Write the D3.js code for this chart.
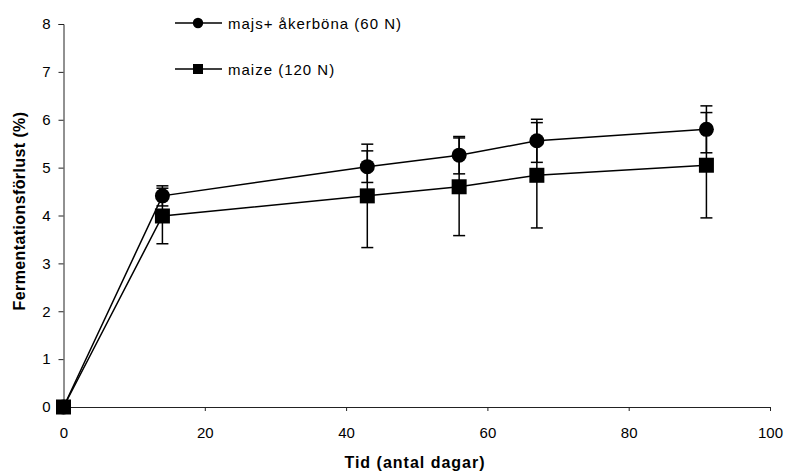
<!DOCTYPE html>
<html>
<head>
<meta charset="utf-8">
<script src="https://cdn.jsdelivr.net/npm/d3@7"></script>
<style>
  body { margin: 0; background: #fff; }
  text { font-family: "Liberation Sans", Arial, sans-serif; fill: #000; }
</style>
</head>
<body>
<div id="chart"></div>
<script>
// Fermentationsförlust över tid, två grödor
const days = [0, 14, 43, 56, 67, 91];
const mixMean = [0, 4.41, 5.02, 5.26, 5.56, 5.80];   // majs+ åkerböna (60 N)
const mixErr  = [0, 0.21, 0.33, 0.39, 0.45, 0.49];
const maizeMean = [0, 3.99, 4.41, 4.60, 4.84, 5.05]; // maize (120 N)
const maizeErr  = [0, 0.58, 1.08, 1.02, 1.10, 1.10];
const xTicks = [0, 20, 40, 60, 80, 100];
const yTicks = [0, 1, 2, 3, 4, 5, 6, 7, 8];
const seriesNames = ["majs+ åkerböna (60 N)", "maize (120 N)"];

const W = 787, H = 474;
const svg = d3.select("#chart").append("svg").attr("width", W).attr("height", H);

const x = d3.scaleLinear().domain([0, 100]).range([63.5, 770]);
const y = d3.scaleLinear().domain([0, 8]).range([407, 24]);

/* axes */
const yAxis = svg.append("g").attr("transform", `translate(${x(0)},0)`)
  .call(d3.axisLeft(y).tickValues(yTicks).tickSize(5).tickPadding(8).tickFormat(d3.format("d")));
const xAxis = svg.append("g").attr("transform", `translate(0,${y(0)})`)
  .call(d3.axisBottom(x).tickValues(xTicks).tickSize(4).tickPadding(16).tickFormat(d3.format("d")));
[xAxis, yAxis].forEach(g => {
  g.select(".domain").attr("stroke", "#222").attr("stroke-width", 1);
  g.selectAll(".tick line").attr("stroke", "#222");
  g.selectAll("text").attr("font-size", 15).attr("font-family", "Liberation Sans, Arial, sans-serif");
});

svg.append("text").attr("x", 415).attr("y", 468).attr("text-anchor", "middle")
  .attr("font-size", 16).attr("font-weight", "bold").attr("letter-spacing", 1)
  .text("Tid (antal dagar)");
svg.append("text").attr("transform", "translate(25,211) rotate(-90)").attr("text-anchor", "middle")
  .attr("font-size", 16).attr("font-weight", "bold").attr("letter-spacing", 0.4)
  .text("Fermentationsförlust (%)");

const series = [
  { mean: mixMean, err: mixErr, shape: "circle" },
  { mean: maizeMean, err: maizeErr, shape: "square" }
];

const line = d3.line().x(d => x(d.t)).y(d => y(d.v));

series.forEach(s => {
  const pts = days.map((t, i) => ({ t, v: s.mean[i], e: s.err[i] }));
  const g = svg.append("g");
  // error bars
  const eb = g.selectAll("g.eb").data(pts.filter(d => d.e > 0)).join("g");
  eb.append("line").attr("x1", d => x(d.t)).attr("x2", d => x(d.t))
    .attr("y1", d => y(d.v - d.e)).attr("y2", d => y(d.v + d.e))
    .attr("stroke", "#000").attr("stroke-width", 1.5);
  [-1, 1].forEach(sg => {
    eb.append("line").attr("x1", d => x(d.t) - 6).attr("x2", d => x(d.t) + 6)
      .attr("y1", d => y(d.v + sg * d.e)).attr("y2", d => y(d.v + sg * d.e))
      .attr("stroke", "#000").attr("stroke-width", 1.5);
  });
  g.append("path").datum(pts).attr("d", line).attr("fill", "none")
    .attr("stroke", "#000").attr("stroke-width", 1.5);
  if (s.shape === "circle") {
    g.selectAll("circle").data(pts).join("circle")
      .attr("cx", d => x(d.t)).attr("cy", d => y(d.v)).attr("r", 7.5).attr("fill", "#000");
  } else {
    g.selectAll("rect").data(pts).join("rect")
      .attr("x", d => x(d.t) - 7.5).attr("y", d => y(d.v) - 7.5)
      .attr("width", 15).attr("height", 15).attr("fill", "#000");
  }
});

/* legend */
const lg = svg.append("g");
seriesNames.forEach((name, i) => {
  const ly = 23 + i * 46;
  lg.append("line").attr("x1", 175).attr("x2", 222).attr("y1", ly).attr("y2", ly)
    .attr("stroke", "#000").attr("stroke-width", 1.5);
  if (i === 0) lg.append("circle").attr("cx", 198).attr("cy", ly).attr("r", 5.2).attr("fill", "#000");
  else lg.append("rect").attr("x", 193).attr("y", ly - 5).attr("width", 10).attr("height", 10).attr("fill", "#000");
  lg.append("text").attr("x", 228).attr("y", ly + 5.5).attr("font-size", 15).attr("letter-spacing", 1)
    .text(name);
});
</script>
</body>
</html>
